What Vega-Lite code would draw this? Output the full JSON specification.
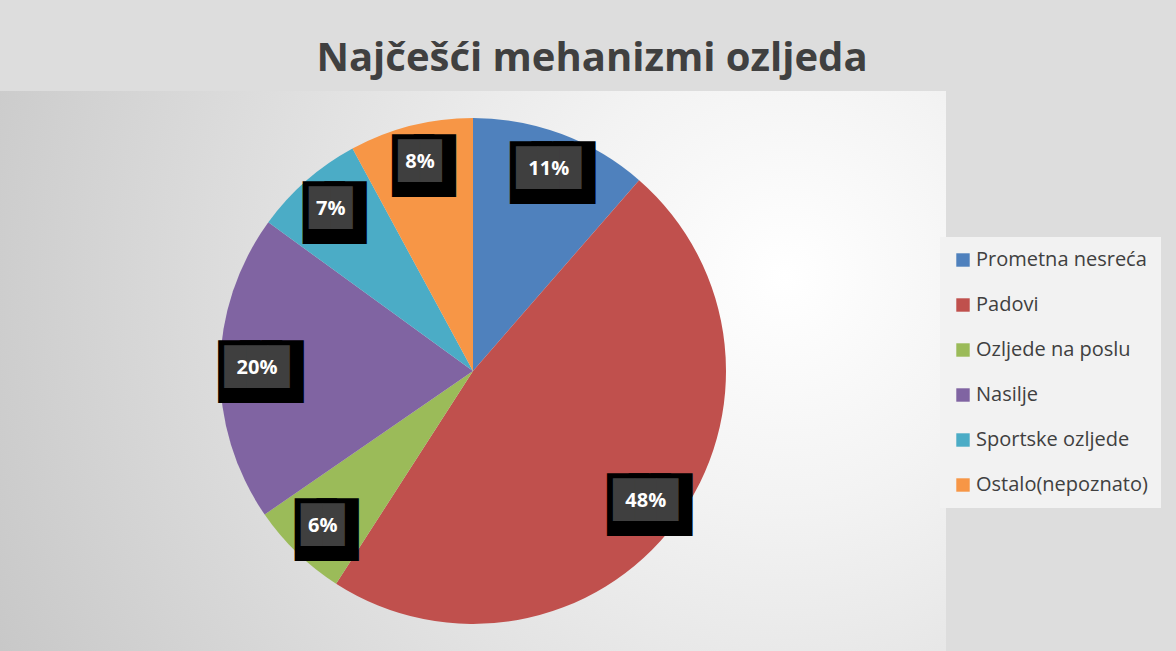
{
  "$schema": "https://vega.github.io/schema/vega-lite/v6.json",
  "width": 946,
  "height": 560,
  "autosize": {"type": "none"},
  "padding": {"left": 0, "top": 91, "right": 230, "bottom": 0},
  "background": "#dddddd",
  "config": {"view": {"stroke": null}},
  "title": {
    "text": "Najčešći mehanizmi ozljeda",
    "font": "Open Sans",
    "fontSize": 40,
    "fontWeight": "bold",
    "color": "#404040",
    "anchor": "middle",
    "dx": 119,
    "dy": 38,
    "offset": 18,
    "baseline": "alphabetic"
  },
  "datasets": {
    "slices": [
      {"category": "Prometna nesreća", "share": 0.114, "order": 1},
      {"category": "Padovi", "share": 0.477, "order": 2},
      {"category": "Ozljede na poslu", "share": 0.063, "order": 3},
      {"category": "Nasilje", "share": 0.196, "order": 4},
      {"category": "Sportske ozljede", "share": 0.071, "order": 5},
      {"category": "Ostalo(nepoznato)", "share": 0.079, "order": 6}
    ]
  },
  "layer": [
    {
      "data": {"values": [{}]},
      "mark": {
        "type": "rect",
        "fill": {
          "gradient": "radial",
          "x1": 0.83, "y1": 0.4, "x2": 0.83, "y2": 0.4,
          "r1": 0, "r2": 0.95,
          "stops": [
            {"offset": 0, "color": "#ffffff"},
            {"offset": 0.25, "color": "#f3f3f3"},
            {"offset": 0.6, "color": "#dedede"},
            {"offset": 1, "color": "#c6c6c6"}
          ]
        }
      },
      "encoding": {}
    },
    {
      "data": {"name": "slices"},
      "mark": {"type": "arc", "outerRadius": 253},
      "encoding": {
        "theta": {"field": "share", "type": "quantitative", "stack": true},
        "order": {"field": "order", "type": "quantitative"},
        "color": {
          "field": "category",
          "type": "nominal",
          "sort": null,
          "scale": {
            "domain": ["Prometna nesreća", "Padovi", "Ozljede na poslu", "Nasilje", "Sportske ozljede", "Ostalo(nepoznato)"],
            "range": ["#4F81BD", "#C0504D", "#9BBB59", "#8064A2", "#4BACC6", "#F79646"]
          },
          "legend": {
            "orient": "none",
            "legendX": 940,
            "legendY": 146,
            "title": null,
            "fillColor": "#f2f2f2",
            "padding": 13,
            "labelFont": "Open Sans",
            "labelFontSize": 20,
            "labelColor": "#404040",
            "symbolType": "square",
            "symbolSize": 180,
            "symbolStrokeWidth": 0,
            "rowPadding": 25,
            "labelOffset": 3,
            "labelLimit": 300
          }
        }
      }
    },
    {
      "data": {"name": "slices"},
      "transform": [{"calculate": "length(format(datum.share, '.0%')) >= 3 ? '███' : '██'", "as": "box"}],
      "mark": {"type": "text", "radius": 216, "font": "DejaVu Sans Mono", "fontSize": 36, "fill": "#000000", "stroke": "#000000", "strokeWidth": 20, "strokeJoin": "miter", "dx": 4, "dy": 5, "baseline": "middle"},
      "encoding": {
        "theta": {"field": "share", "type": "quantitative", "stack": true},
        "order": {"field": "order", "type": "quantitative"},
        "text": {"field": "box"}
      }
    },
    {
      "data": {"name": "slices"},
      "transform": [{"calculate": "length(format(datum.share, '.0%')) >= 3 ? '███' : '██'", "as": "box"}],
      "mark": {"type": "text", "radius": 216, "font": "DejaVu Sans Mono", "fontSize": 36, "fill": "#3f3f3f", "baseline": "middle"},
      "encoding": {
        "theta": {"field": "share", "type": "quantitative", "stack": true},
        "order": {"field": "order", "type": "quantitative"},
        "text": {"field": "box"}
      }
    },
    {
      "data": {"name": "slices"},
      "mark": {"type": "text", "radius": 216, "font": "Open Sans", "fontSize": 20, "fontWeight": "bold", "fill": "#ffffff", "baseline": "middle"},
      "encoding": {
        "theta": {"field": "share", "type": "quantitative", "stack": true},
        "order": {"field": "order", "type": "quantitative"},
        "text": {"field": "share", "type": "quantitative", "format": ".0%"}
      }
    }
  ]
}
